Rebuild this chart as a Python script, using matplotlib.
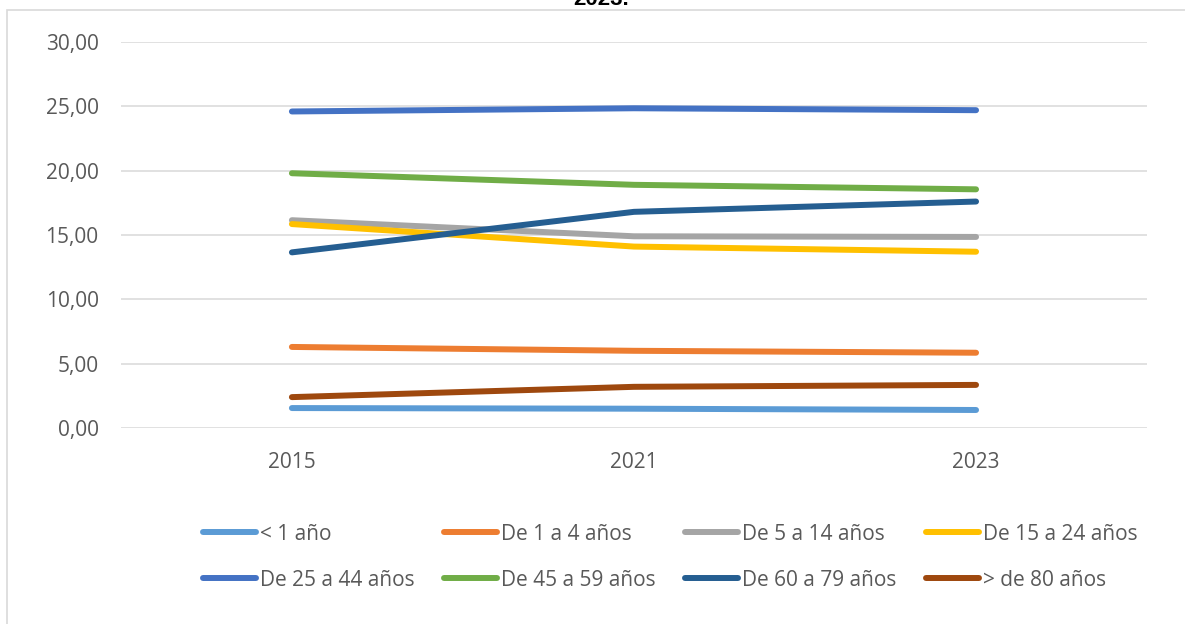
import matplotlib.pyplot as plt
from matplotlib.patches import Rectangle
from matplotlib.ticker import FuncFormatter

plt.rcParams['font.family'] = ['Open Sans', 'DejaVu Sans']

years = ['2015', '2021', '2023']
labels = ['< 1 año', 'De 1 a 4 años', 'De 5 a 14 años', 'De 15 a 24 años',
          'De 25 a 44 años', 'De 45 a 59 años', 'De 60 a 79 años', '> de 80 años']
colors = ['#5B9BD5', '#ED7D31', '#A5A5A5', '#FFC000',
          '#4472C4', '#70AD47', '#255E91', '#9E480E']

menor_1 = [1.55, 1.50, 1.40]
de_1_4 = [6.30, 6.00, 5.85]
de_5_14 = [16.15, 14.90, 14.85]
de_15_24 = [15.85, 14.10, 13.70]
de_25_44 = [24.60, 24.85, 24.70]
de_45_59 = [19.80, 18.90, 18.55]
de_60_79 = [13.65, 16.80, 17.60]
mayor_80 = [2.40, 3.20, 3.35]
series = [menor_1, de_1_4, de_5_14, de_15_24, de_25_44, de_45_59, de_60_79, mayor_80]

fig = plt.figure(figsize=(11.85, 6.24), dpi=100)
ax = fig.add_axes([0.102, 0.3141, 0.866, 0.6186])

x = range(len(years))
handles = []
for vals, lab, col in zip(series, labels, colors):
    h, = ax.plot(x, vals, color=col, lw=4.3, solid_capstyle='round', label=lab, zorder=3)
    handles.append(h)

ax.set_xlim(-0.5, len(years) - 0.5)
ax.set_ylim(0, 30)
ax.set_yticks(range(0, 31, 5))
ax.yaxis.set_major_formatter(FuncFormatter(lambda v, p: f'{v:.2f}'.replace('.', ',')))
ax.set_xticks(list(x))
ax.set_xticklabels(years)
ax.grid(axis='y', color='#D9D9D9', lw=1.1, zorder=0)
ax.tick_params(axis='both', length=0, labelsize=15, labelcolor='#595959')
ax.tick_params(axis='y', pad=16)
ax.tick_params(axis='x', pad=17)
for s in ax.spines.values():
    s.set_visible(False)

# chart area border
fig.patches.append(Rectangle((7 / 1185, -0.05), 1.2, 1 - 10 / 624 + 0.05,
                             transform=fig.transFigure, fill=False,
                             edgecolor='#D9D9D9', lw=1.2))

fig.text(0.507, 1 - 5 / 624, '2023.', ha='center', va='baseline',
         fontsize=16, fontweight='bold', family='Liberation Sans')

# legend fills column-wise, so reorder to read row-wise like the original
order = [0, 4, 1, 5, 2, 6, 3, 7]
leg = fig.legend([handles[i] for i in order], [labels[i] for i in order],
                 loc='center', bbox_to_anchor=(0.5654, 0.107), ncol=4,
                 frameon=False, fontsize=15, handlelength=2.55,
                 handletextpad=0.2, columnspacing=1.4, labelspacing=1.2,
                 borderpad=0, borderaxespad=0)
for t in leg.get_texts():
    t.set_color('#595959')

fig.savefig('out.png', dpi=100)
